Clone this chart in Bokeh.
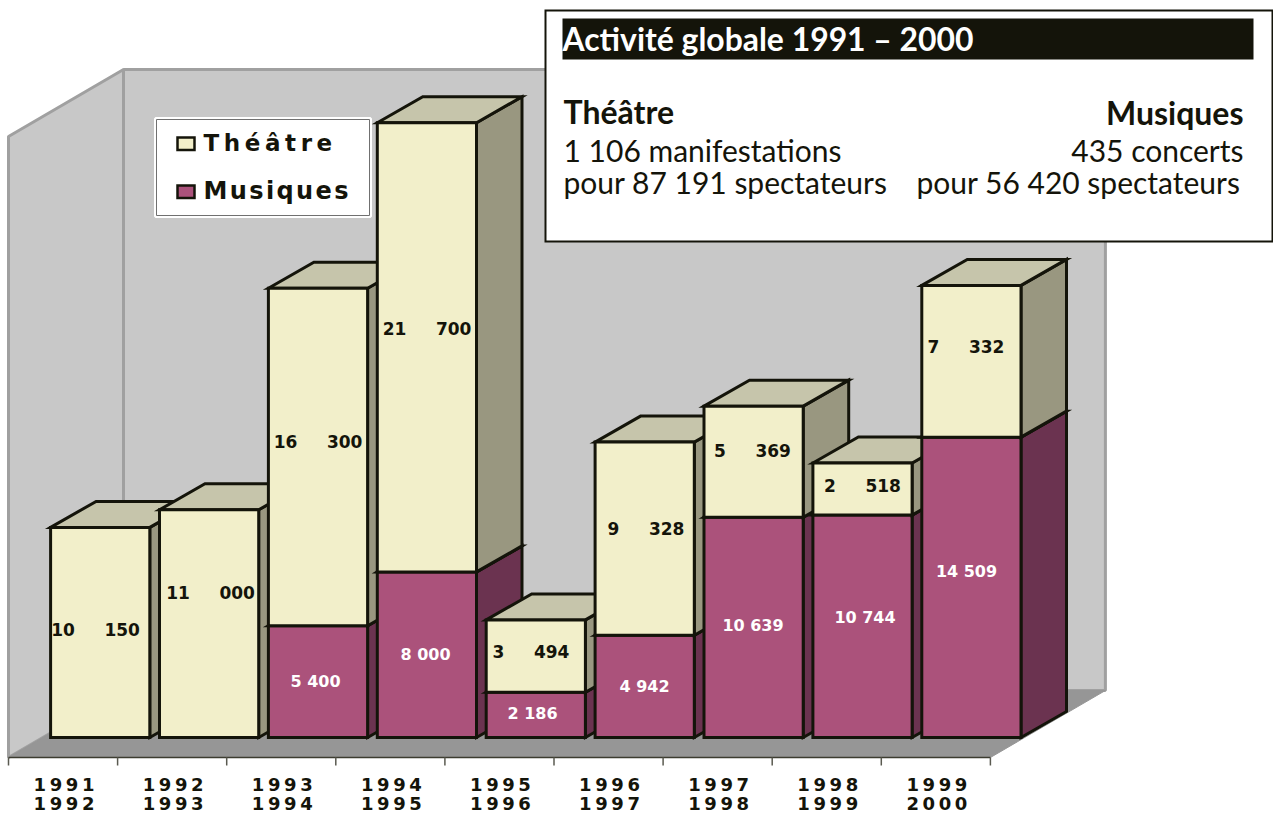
from bokeh.plotting import figure
from bokeh.embed import file_html
from bokeh.resources import INLINE
from bokeh.core.properties import value

# ---- data ----
TS = "\u2009"
HS = "\u200a"
NB = "\u00a0"
periods_start = ["1991", "1992", "1993", "1994", "1995", "1996", "1997", "1998", "1999"]
periods_end = ["1992", "1993", "1994", "1995", "1996", "1997", "1998", "1999", "2000"]
musiques = [0, 0, 5400, 8000, 2186, 4942, 10639, 10744, 14509]
theatre = [10150, 11000, 16300, 21700, 3494, 9328, 5369, 2518, 7332]
axis_max = 30000

# ---- scales: category units and spectator units ----
PX_CAT = 108.9
PX_VAL = 0.0207
ORIGIN_X = 99.7   # reference px of category 0
ORIGIN_Y = 737.0  # reference px of value 0
W, H = 1273, 814


def sx(X):
    return (X - ORIGIN_X) / PX_CAT


def sy(Y):
    return (ORIGIN_Y - Y) / PX_VAL


DX = 45.5 / PX_CAT   # bar depth
DY = 26 / PX_VAL
HALF = 49.6 / PX_CAT  # half bar width
FLOOR_DX = 115 / PX_CAT
FLOOR_DY = 67 / PX_VAL
FLOOR_STEP = 109.1 / PX_CAT
SHIFT_Y = 20 / PX_VAL

INK = "#14140a"
WALL, WALL_EDGE, FLOOR = "#c8c8c8", "#a0a0a0", "#969696"
CREAM = ("#f2efca", "#c6c5ab", "#999780")
PLUM = ("#ab527b", "#8a4263", "#6b3350")
LATIN = value("DejaVu Sans")
BOX_FONT = value("Lato")

p = figure(width=W, height=H, output_backend="svg", toolbar_location=None,
           x_range=(sx(0), sx(W)), y_range=(sy(H), sy(0)),
           min_border=0, outline_line_color=None, background_fill_color="white",
           border_fill_color="white")
p.axis.visible = False
p.grid.visible = False

# ---- walls and floor ----
n = len(theatre)
fl = sx(8)
fr = fl + n * FLOOR_STEP
fb = -SHIFT_Y
back = fb + FLOOR_DY
p.patches(xs=[[fl, fl, fl + FLOOR_DX, fl + FLOOR_DX],
              [fl + FLOOR_DX, fl + FLOOR_DX, fr + FLOOR_DX, fr + FLOOR_DX]],
          ys=[[fb, fb + axis_max, back + axis_max, back],
              [back, back + axis_max, back + axis_max, back]],
          fill_color=WALL, line_color=WALL_EDGE, line_width=3)
p.patch(x=[fl, fl + FLOOR_DX, fr + FLOOR_DX, fr],
        y=[fb, back, back, fb],
        fill_color=FLOOR, line_color=FLOOR, line_width=1)
p.line(x=[fl, fr], y=[fb, fb], line_color="#3c3c30", line_width=1.5)
ticks = [fl + k * FLOOR_STEP for k in range(n + 1)]
p.segment(x0=ticks, x1=ticks, y0=[fb] * (n + 1), y1=[fb - 8 / PX_VAL] * (n + 1),
          line_color="#5a5a50", line_width=1.5)

# ---- bars ----
xs, ys, fills = [], [], []
for i in range(n):
    x0, x1 = i - HALF, i + HALF
    base = 0
    for v, pal in ((musiques[i], PLUM), (theatre[i], CREAM)):
        if v:
            top = base + v
            xs += [[x1, x1 + DX, x1 + DX, x1], [x0, x0 + DX, x1 + DX, x1], [x0, x1, x1, x0]]
            ys += [[base, base + DY, top + DY, top], [top, top + DY, top + DY, top], [base, base, top, top]]
            fills += [pal[2], pal[1], pal[0]]
            base = top
p.patches(xs=xs, ys=ys, fill_color=fills, line_color=INK, line_width=3, line_join="miter")

# ---- value labels (placed by hand, as in the reference) ----
theatre_label_px = [95, 210, 317.5, 426.5, 530.5, 645.5, 752, 862, 965.5]
theatre_label_py = [629, 592, 441, 328, 651, 528, 450, 485, 346]
musiques_label_px = [None, None, 315, 425, 532, 644, 752.5, 864.5, 966]
musiques_label_py = [None, None, 681, 654, 713, 686, 625, 617, 571]


def spaced(v, gap):
    return f"{v:,}".replace(",", gap)


p.text(x=[sx(v) for v in theatre_label_px], y=[sy(t) for t in theatre_label_py],
       text=[spaced(v, NB * 5) for v in theatre],
       text_color=INK, text_font=LATIN, text_font_style="bold", text_font_size="17px",
       text_align="center", text_baseline="middle")
idx = [i for i in range(n) if musiques[i]]
p.text(x=[sx(musiques_label_px[i]) for i in idx], y=[sy(musiques_label_py[i]) for i in idx],
       text=[spaced(musiques[i], " ") for i in idx],
       text_color="white", text_font=LATIN, text_font_style="bold", text_font_size="16px",
       text_align="center", text_baseline="middle")

# ---- category labels ----
cx = [sx(8) + (i + 0.5) * FLOOR_STEP + 1 / PX_CAT for i in range(n)]
for labels, Y in ((periods_start, 783.5), (periods_end, 803)):
    p.text(x=cx, y=[sy(Y)] * n, text=[TS.join(s) for s in labels], text_color=INK, text_font=LATIN,
           text_font_style="bold", text_font_size="18px", text_align="center",
           text_baseline="middle")

# ---- legend ----
p.quad(left=[sx(155)], right=[sx(370)], top=[sy(118)], bottom=[sy(216)],
       fill_color="white", line_color="white", line_width=3)
p.quad(left=[sx(156)], right=[sx(369)], top=[sy(119)], bottom=[sy(215)],
       fill_color="white", line_color="#707070", line_width=1)
p.quad(left=[sx(177), sx(177)], right=[sx(194), sx(194)],
       top=[sy(137), sy(185)], bottom=[sy(149.5), sy(197.5)],
       fill_color=[CREAM[0], PLUM[0]], line_color=INK, line_width=2.5, line_join="miter")
p.text(x=[sx(203)], y=[sy(142)], text=[TS.join("Théâtre")],
       text_color=INK, text_font=LATIN, text_font_style="bold", text_font_size="23px",
       text_align="left", text_baseline="middle")
p.text(x=[sx(203)], y=[sy(190)], text=[HS.join("Musiques")],
       text_color=INK, text_font=LATIN, text_font_style="bold", text_font_size="24px",
       text_align="left", text_baseline="middle")

# ---- information box ----
p.quad(left=[sx(545)], right=[sx(1272)], top=[sy(10)], bottom=[sy(241)],
       fill_color="white", line_color=INK, line_width=2, line_join="miter")
p.quad(left=[sx(562)], right=[sx(1253)], top=[sy(18)], bottom=[sy(59)],
       fill_color=INK, line_color=None)
p.text(x=[sx(562)], y=[sy(38)], text=["Activité globale 1991 – 2000"],
       text_color="white", text_font=BOX_FONT, text_font_style="bold", text_font_size="31.9px",
       text_align="left", text_baseline="middle")
p.text(x=[sx(563), sx(1243)], y=[sy(111), sy(112)], text=["Théâtre", "Musiques"],
       text_color=INK, text_font=BOX_FONT, text_font_style="bold", text_font_size="32px",
       text_align=["left", "right"], text_baseline="middle")
p.text(x=[sx(563), sx(563)], y=[sy(149), sy(181)],
       text=["1 106 manifestations", "pour 87 191 spectateurs"],
       text_color=INK, text_font=BOX_FONT, text_font_size="30px",
       text_align="left", text_baseline="middle")
p.text(x=[sx(1243), sx(1240)], y=[sy(149), sy(181)],
       text=["435 concerts", "pour 56 420 spectateurs"],
       text_color=INK, text_font=BOX_FONT, text_font_size="30px",
       text_align="right", text_baseline="middle")

open("out.html", "w").write(file_html(p, INLINE))
